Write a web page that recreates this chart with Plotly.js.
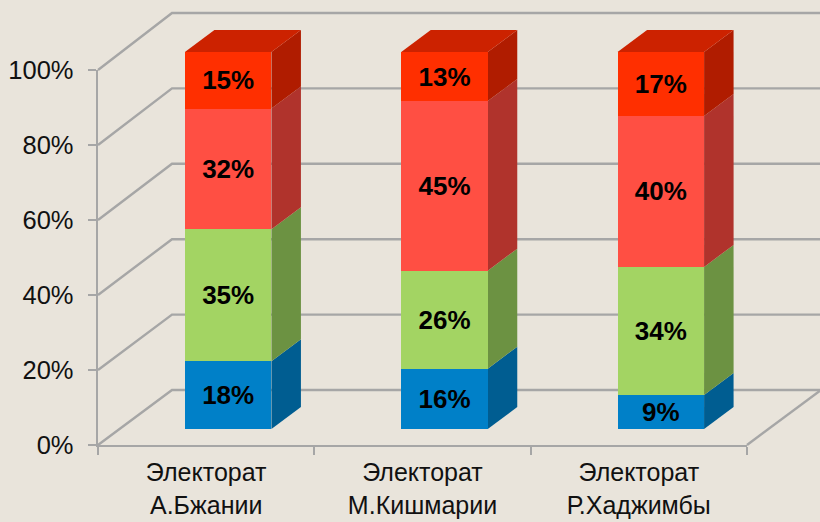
<!DOCTYPE html>
<html><head><meta charset="utf-8">
<script src="https://cdn.plot.ly/plotly-3.0.1.min.js"></script>
<style>html,body{margin:0;padding:0;background:#E9E4DB}</style></head>
<body><div id="chart" style="width:820px;height:522px"></div>
<script>
const categories = ["Электорат<br>А.Бжании","Электорат<br>М.Кишмарии","Электорат<br>Р.Хаджимбы"];
const blue = [18,16,9];
const green = [35,26,34];
const salmon = [32,45,40];
const red = [15,13,17];
const yTicks = [0,20,40,60,80,100];

const W=820,H=522,X0=98,Y0=445,UX=216.33,UY=3.77,UYF=3.75;
const wx=[-0.5-X0/UX,-0.5+(W-X0)/UX], wy=[(Y0-H)/UY,Y0/UY];
const shift=(r,d)=>[r[0]-d,r[1]-d];
// offsets of planes, in axis units
const barDX=22/UX, barDY=16/UY, depthX=29.5/UX, depthY=22/UY, wallX=74/UX, wallY=55/UY;
const halfW=0.2, frontK=UYF/UY;
const line={color:'#A6A6A6',width:2.4};
const traces=[];
traces.push({x:[0,1,2],y:[0,0,0],xaxis:'x',yaxis:'y',mode:'none',type:'scatter',hoverinfo:'skip',showlegend:false});
// walls
yTicks.forEach(v=>{
  traces.push({type:'scatter',mode:'lines',xaxis:'x2',yaxis:'y2',hoverinfo:'skip',showlegend:false,line,
    x:[-0.5,-0.5+wallX,wx[1]+1],y:[v*frontK,v+wallY,v+wallY]});
});
traces.push({type:'scatter',mode:'lines',xaxis:'x2',yaxis:'y2',hoverinfo:'skip',showlegend:false,line,
  x:[2.5,2.5+wallX],y:[0,wallY]});
// side and top faces
const series=[
 {name:'s1',v:blue,c:'#0080C8',side:'#005D91'},
 {name:'s2',v:green,c:'#A3D463',side:'#6C9242'},
 {name:'s3',v:salmon,c:'#FF4F43',side:'#B0332C'},
 {name:'s4',v:red,c:'#FF2F00',side:'#B01C00',top:'#CC2200'}];
categories.forEach((cat,i)=>{
  let b=0;
  series.forEach(s=>{
    const t=b+s.v[i], xr=i+barDX+halfW, yb=b+barDY, yt=t+barDY;
    traces.push({type:'scatter',mode:'lines',fill:'toself',fillcolor:s.side,line:{width:0},xaxis:'x2',yaxis:'y2',hoverinfo:'skip',showlegend:false,
      x:[xr,xr+depthX,xr+depthX,xr,xr],y:[yb,yb+depthY,yt+depthY,yt,yb]});
    if(s.top){
      const xl=i+barDX-halfW;
      traces.push({type:'scatter',mode:'lines',fill:'toself',fillcolor:s.top,line:{width:0},xaxis:'x2',yaxis:'y2',hoverinfo:'skip',showlegend:false,
        x:[xl,xl+depthX,xr+depthX,xr,xl],y:[yt,yt+depthY,yt+depthY,yt,yt]});
    }
    b=t;
  });
});
// front faces
series.forEach(s=>{
  traces.push({type:'bar',name:s.name,x:[0,1,2],y:s.v,xaxis:'x3',yaxis:'y3',width:2*halfW,
    marker:{color:s.c,line:{width:0}},text:s.v.map(v=>v+'%'),textposition:'inside',insidetextanchor:'middle',
    textangle:0,constraintext:'none',textfont:{family:'Liberation Sans',size:26,color:'#000',weight:'bold'},
    hoverinfo:'skip',showlegend:false});
});
const hidden={visible:true,showgrid:false,zeroline:false,showticklabels:false,ticks:'',showline:false,fixedrange:true};
const layout={width:W,height:H,margin:{l:0,r:0,t:0,b:0},paper_bgcolor:'#E9E4DB',plot_bgcolor:'rgba(0,0,0,0)',
 barmode:'stack',showlegend:false,font:{family:'Liberation Sans',color:'#111',size:25.5},
 xaxis:{domain:[X0/W,(X0+3*UX)/W],range:[-0.5,2.5],tickmode:'array',tickvals:[0,1,2],ticktext:categories,ticks:'',showgrid:false,zeroline:false,
   showline:true,linecolor:'#A6A6A6',linewidth:2.4,anchor:'y',tickfont:{size:25},ticklabelstandoff:4,
   minor:{tickmode:'array',tickvals:[-0.5,0.5,1.5,2.5],ticks:'outside',ticklen:8,tickcolor:'#A6A6A6',tickwidth:2,showgrid:false}},
 yaxis:{domain:[(H-Y0)/H,(H-Y0+100*UYF)/H],range:[0,100],tickmode:'array',tickvals:yTicks,ticktext:yTicks.map(v=>v+'%'),ticks:'outside',ticklen:8,tickcolor:'#A6A6A6',tickwidth:2,
   showgrid:false,zeroline:false,showline:true,linecolor:'#A6A6A6',linewidth:2.4,anchor:'x',tickfont:{size:25.5},ticklabelstandoff:9},
 xaxis2:Object.assign({},hidden,{domain:[0,1],range:wx,anchor:'y2'}),
 yaxis2:Object.assign({},hidden,{domain:[0,1],range:wy,anchor:'x2'}),
 xaxis3:Object.assign({},hidden,{domain:[0,1],range:shift(wx,barDX),anchor:'y3'}),
 yaxis3:Object.assign({},hidden,{domain:[0,1],range:shift(wy,barDY),anchor:'x3'})
};
Plotly.newPlot('chart',traces,layout,{displayModeBar:false,staticPlot:true});
</script></body></html>
